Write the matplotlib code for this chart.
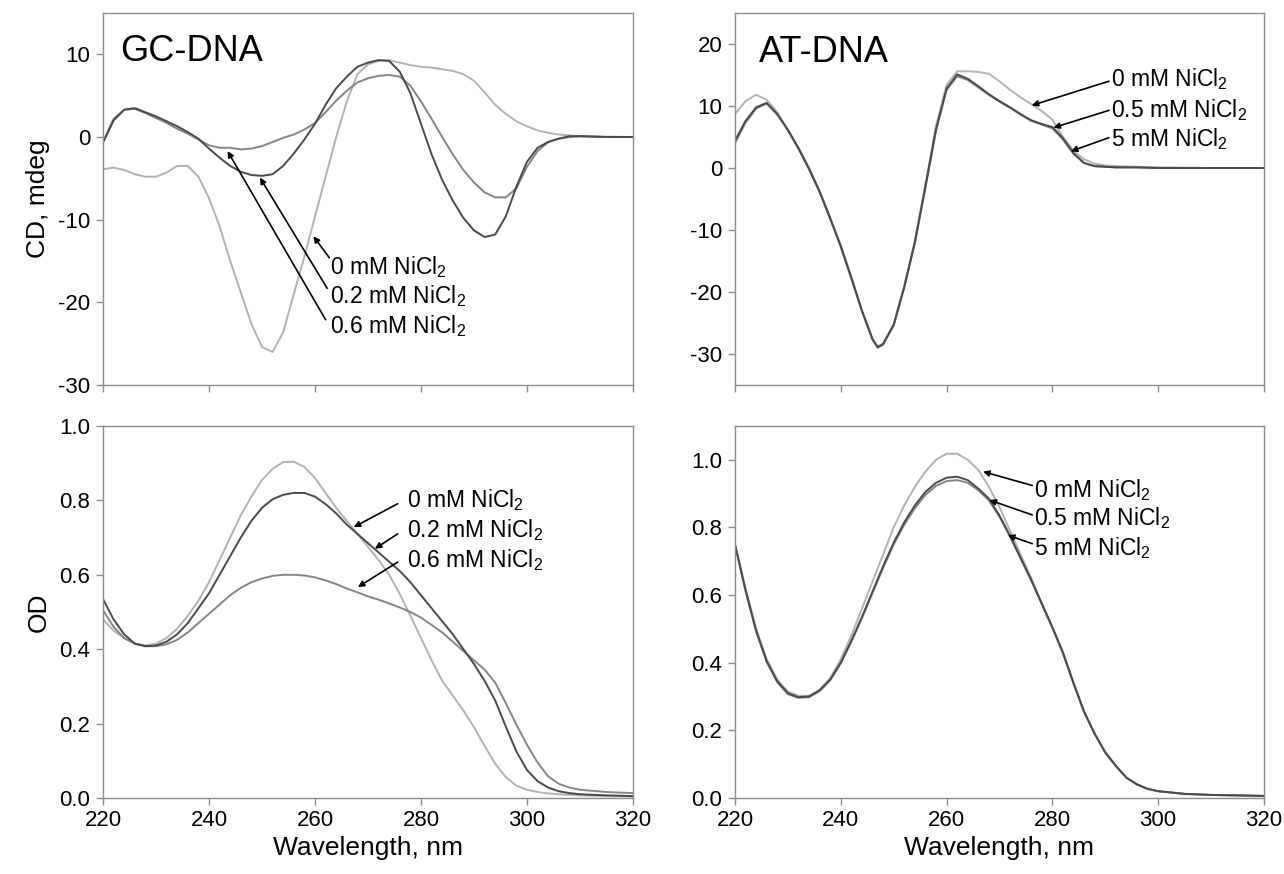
import numpy as np
import matplotlib
matplotlib.use('Agg')
import matplotlib.pyplot as plt

plt.rcParams['font.family'] = ['Liberation Sans', 'DejaVu Sans']
plt.rcParams['mathtext.fontset'] = 'custom'
plt.rcParams['mathtext.rm'] = 'Liberation Sans'
plt.rcParams['mathtext.it'] = 'Liberation Sans'
plt.rcParams['axes.unicode_minus'] = False

"""--- GC-DNA, CD ---"""
wl_gc_cd = [220, 222, 224, 226, 228, 230, 232, 234, 236, 238, 240, 242, 244, 246, 248,
            250, 252, 254, 256, 258, 260, 262, 264, 266, 268, 270, 272, 274, 276, 278,
            280, 282, 284, 286, 288, 290, 292, 294, 296, 298, 300, 302, 304, 306, 308,
            310, 315, 320]
gc_cd_0 = [-3.9, -3.7, -4.0, -4.5, -4.8, -4.8, -4.3, -3.5, -3.5, -4.8, -7.4, -10.8, -15.0, -18.8, -22.6,
           -25.4, -26.0, -23.6, -19.0, -14.5, -9.6, -4.8, 0.0, 4.3, 7.6, 8.8, 9.2, 9.3, 9.0, 8.7,
           8.5, 8.4, 8.2, 8.0, 7.6, 6.8, 5.4, 3.9, 2.8, 1.9, 1.3, 0.8, 0.5, 0.3, 0.2,
           0.1, 0.05, 0.0]
gc_cd_02 = [-0.7, 2.0, 3.3, 3.5, 3.0, 2.5, 1.9, 1.3, 0.6, -0.2, -1.4, -2.5, -3.5, -4.2, -4.6,
            -4.7, -4.5, -3.5, -2.0, -0.3, 1.6, 3.9, 5.9, 7.3, 8.5, 9.0, 9.3, 9.2, 7.9, 5.3,
            1.6, -2.1, -5.2, -7.7, -9.8, -11.3, -12.1, -11.8, -9.6, -6.0, -3.0, -1.3, -0.6, -0.2, 0.1,
            0.1, 0.0, 0.0]
gc_cd_06 = [-0.6, 2.2, 3.3, 3.4, 2.9, 2.3, 1.7, 1.0, 0.4, -0.3, -1.0, -1.3, -1.3, -1.5, -1.4,
            -1.1, -0.6, -0.1, 0.3, 0.9, 1.7, 3.0, 4.4, 5.6, 6.6, 7.1, 7.4, 7.5, 7.3, 6.2,
            4.3, 2.2, 0.0, -2.1, -4.0, -5.5, -6.7, -7.3, -7.3, -6.2, -3.6, -1.7, -0.6, -0.2, 0.0,
            0.1, 0.0, 0.0]

"""--- AT-DNA, CD ---"""
wl_at_cd = [220, 222, 224, 226, 228, 230, 232, 234, 236, 238, 240, 242, 244, 246, 247,
            248, 250, 252, 254, 256, 258, 260, 262, 264, 266, 268, 270, 272, 274, 276,
            278, 280, 282, 284, 286, 288, 290, 292, 296, 300, 310, 320]
at_cd_0 = [8.7, 10.8, 11.8, 11.0, 9.0, 6.0, 3.3, 0.0, -3.7, -8.0, -12.5, -17.6, -23.0, -27.6, -28.8,
           -28.3, -25.2, -19.0, -11.8, -2.6, 6.8, 13.4, 15.6, 15.6, 15.5, 15.2, 14.0, 12.6, 11.4, 10.3,
           9.2, 7.8, 5.0, 2.8, 1.4, 0.7, 0.4, 0.3, 0.2, 0.1, 0.0, 0.0]
at_cd_05 = [4.4, 7.6, 9.8, 10.5, 8.7, 6.2, 3.2, -0.1, -3.8, -8.1, -12.6, -17.7, -23.0, -27.6, -28.9,
            -28.4, -25.3, -19.2, -12.0, -3.0, 6.2, 12.8, 15.1, 14.4, 13.2, 11.9, 10.8, 9.8, 8.7, 7.7,
            7.1, 6.6, 4.8, 2.4, 0.8, 0.3, 0.2, 0.1, 0.1, 0.0, 0.0, 0.0]
at_cd_5 = [4.0, 7.3, 9.6, 10.4, 8.6, 6.1, 3.1, -0.2, -3.9, -8.2, -12.7, -17.8, -23.1, -27.7, -29.0,
           -28.5, -25.4, -19.3, -12.1, -3.2, 6.0, 12.6, 14.8, 14.2, 13.0, 11.8, 10.7, 9.7, 8.6, 7.6,
           7.0, 6.4, 4.6, 2.3, 0.8, 0.3, 0.2, 0.1, 0.1, 0.0, 0.0, 0.0]

"""--- GC-DNA, OD ---"""
wl_gc_od = [220, 222, 224, 226, 228, 230, 232, 234, 236, 238, 240, 242, 244, 246, 248,
            250, 252, 254, 256, 258, 260, 262, 264, 266, 268, 270, 272, 274, 276, 278,
            280, 282, 284, 286, 288, 290, 292, 294, 296, 298, 300, 302, 304, 306, 308,
            310, 315, 320]
gc_od_0 = [0.48, 0.45, 0.43, 0.415, 0.41, 0.415, 0.43, 0.455, 0.49, 0.53, 0.58, 0.64, 0.70, 0.76, 0.81,
           0.855, 0.885, 0.903, 0.904, 0.89, 0.86, 0.82, 0.78, 0.745, 0.71, 0.675, 0.64, 0.60, 0.548, 0.49,
           0.43, 0.37, 0.315, 0.275, 0.235, 0.19, 0.14, 0.092, 0.056, 0.033, 0.022, 0.016, 0.012, 0.01, 0.008,
           0.007, 0.005, 0.004]
gc_od_02 = [0.535, 0.48, 0.44, 0.415, 0.408, 0.41, 0.42, 0.44, 0.47, 0.51, 0.55, 0.60, 0.65, 0.70, 0.745,
            0.78, 0.803, 0.815, 0.82, 0.82, 0.81, 0.79, 0.765, 0.735, 0.71, 0.685, 0.66, 0.635, 0.61, 0.58,
            0.545, 0.51, 0.475, 0.44, 0.40, 0.36, 0.315, 0.262, 0.192, 0.125, 0.075, 0.045, 0.028, 0.018, 0.013,
            0.01, 0.007, 0.005]
gc_od_06 = [0.505, 0.46, 0.43, 0.415, 0.408, 0.408, 0.413, 0.425, 0.445, 0.47, 0.495, 0.52, 0.545, 0.565, 0.58,
            0.59, 0.597, 0.60, 0.60, 0.598, 0.593, 0.585, 0.575, 0.563, 0.553, 0.542, 0.533, 0.523, 0.512, 0.50,
            0.485, 0.465, 0.445, 0.42, 0.395, 0.37, 0.345, 0.31, 0.255, 0.197, 0.143, 0.095, 0.058, 0.038, 0.028,
            0.022, 0.016, 0.013]

"""--- AT-DNA, OD ---"""
wl_at_od = [220, 222, 224, 226, 228, 230, 232, 234, 236, 238, 240, 242, 244, 246, 248,
            250, 252, 254, 256, 258, 260, 262, 264, 266, 268, 270, 272, 274, 276, 278,
            280, 282, 284, 286, 288, 290, 292, 294, 296, 298, 300, 305, 310, 320]
at_od_0 = [0.75, 0.62, 0.50, 0.41, 0.35, 0.315, 0.302, 0.302, 0.32, 0.355, 0.41, 0.48, 0.56, 0.64, 0.72,
           0.80, 0.865, 0.92, 0.965, 1.0, 1.018, 1.018, 1.0, 0.97, 0.92, 0.86, 0.79, 0.72, 0.65, 0.575,
           0.505, 0.43, 0.34, 0.255, 0.19, 0.135, 0.095, 0.06, 0.04, 0.027, 0.02, 0.012, 0.009, 0.006]
at_od_05 = [0.75, 0.615, 0.495, 0.405, 0.345, 0.31, 0.298, 0.3, 0.318, 0.35, 0.40, 0.465, 0.535, 0.61, 0.685,
            0.755, 0.815, 0.865, 0.905, 0.932, 0.947, 0.95, 0.94, 0.915, 0.885, 0.835, 0.775, 0.71, 0.645, 0.575,
            0.505, 0.43, 0.34, 0.255, 0.19, 0.135, 0.095, 0.06, 0.04, 0.027, 0.02, 0.012, 0.009, 0.006]
at_od_5 = [0.75, 0.612, 0.492, 0.402, 0.342, 0.307, 0.296, 0.298, 0.316, 0.348, 0.398, 0.462, 0.532, 0.606, 0.68,
           0.75, 0.808, 0.857, 0.896, 0.923, 0.937, 0.94, 0.932, 0.91, 0.88, 0.832, 0.773, 0.708, 0.643, 0.573,
           0.503, 0.428, 0.338, 0.254, 0.189, 0.134, 0.094, 0.06, 0.04, 0.027, 0.02, 0.012, 0.009, 0.006]

LIGHT = '#b2b2b2'
MID = '#858585'
DARK = '#4a4a4a'
SPINE = '#8c8c8c'

TICK_FS = 16
NOTE_FS = 16.5
LABEL_FS = 19
TITLE_FS = 26

fig = plt.figure(figsize=(12.84, 8.74), dpi=100)
ax_gc_cd = fig.add_axes([0.0802, 0.5595, 0.4128, 0.4256])
ax_at_cd = fig.add_axes([0.5724, 0.5595, 0.4120, 0.4256])
ax_gc_od = fig.add_axes([0.0802, 0.0870, 0.4128, 0.4256])
ax_at_od = fig.add_axes([0.5724, 0.0870, 0.4120, 0.4256])


def style(ax):
    for s in ax.spines.values():
        s.set_color(SPINE)
        s.set_linewidth(1.0)
    ax.tick_params(direction='out', length=5, width=1, color=SPINE,
                   labelsize=TICK_FS, labelcolor='black', pad=4)
    ax.set_xlim(220, 320)
    ax.set_xticks([220, 240, 260, 280, 300, 320])


def arrow(ax, tail, tip):
    ax.annotate('', xy=tip, xytext=tail,
                arrowprops=dict(arrowstyle='-|>', color='black', lw=1.2,
                                mutation_scale=9, shrinkA=0, shrinkB=0))


lw = 1.4

"""--- GC CD ---"""
ax = ax_gc_cd
ax.plot(wl_gc_cd, gc_cd_0, color=LIGHT, lw=lw)
ax.plot(wl_gc_cd, gc_cd_06, color=MID, lw=lw)
ax.plot(wl_gc_cd, gc_cd_02, color=DARK, lw=lw)
style(ax)
ax.set_ylim(-30, 15)
ax.set_yticks([-30, -20, -10, 0, 10])
ax.set_xticklabels([])
ax.set_ylabel('CD, mdeg', fontsize=LABEL_FS, labelpad=6)
ax.text(223.3, 10.4, 'GC-DNA', fontsize=TITLE_FS, va='center', ha='left')
arrow(ax, (262.7, -14.6), (259.7, -12.0))
arrow(ax, (262.3, -18.3), (249.6, -4.9))
arrow(ax, (262.0, -22.1), (243.5, -1.7))
ax.text(262.9, -15.7, r'0 mM NiCl$_2$', fontsize=NOTE_FS, va='center')
ax.text(262.9, -19.3, r'0.2 mM NiCl$_2$', fontsize=NOTE_FS, va='center')
ax.text(262.9, -22.9, r'0.6 mM NiCl$_2$', fontsize=NOTE_FS, va='center')

"""--- AT CD ---"""
ax = ax_at_cd
ax.plot(wl_at_cd, at_cd_0, color=LIGHT, lw=lw)
ax.plot(wl_at_cd, at_cd_5, color=MID, lw=lw)
ax.plot(wl_at_cd, at_cd_05, color=DARK, lw=lw)
style(ax)
ax.set_ylim(-35, 25)
ax.set_yticks([-30, -20, -10, 0, 10, 20])
ax.set_xticklabels([])
ax.text(224.5, 18.6, 'AT-DNA', fontsize=TITLE_FS, va='center', ha='left')
arrow(ax, (290.7, 14.0), (276.1, 10.1))
arrow(ax, (290.7, 9.3), (280.2, 6.5))
arrow(ax, (290.7, 4.9), (283.5, 2.7))
ax.text(291.0, 14.3, r'0 mM NiCl$_2$', fontsize=NOTE_FS, va='center')
ax.text(291.0, 9.4, r'0.5 mM NiCl$_2$', fontsize=NOTE_FS, va='center')
ax.text(291.0, 4.7, r'5 mM NiCl$_2$', fontsize=NOTE_FS, va='center')

"""--- GC OD ---"""
ax = ax_gc_od
ax.plot(wl_gc_od, gc_od_0, color=LIGHT, lw=lw)
ax.plot(wl_gc_od, gc_od_06, color=MID, lw=lw)
ax.plot(wl_gc_od, gc_od_02, color=DARK, lw=lw)
style(ax)
ax.set_ylim(0, 1.0)
ax.set_yticks([0.0, 0.2, 0.4, 0.6, 0.8, 1.0])
ax.set_yticklabels(['0.0', '0.2', '0.4', '0.6', '0.8', '1.0'])
ax.set_ylabel('OD', fontsize=LABEL_FS, labelpad=6)
ax.set_xlabel('Wavelength, nm', fontsize=LABEL_FS, labelpad=3)
arrow(ax, (275.6, 0.791), (267.3, 0.728))
arrow(ax, (275.6, 0.710), (271.3, 0.670))
arrow(ax, (275.6, 0.634), (268.1, 0.567))
ax.text(277.4, 0.80, r'0 mM NiCl$_2$', fontsize=NOTE_FS, va='center')
ax.text(277.4, 0.72, r'0.2 mM NiCl$_2$', fontsize=NOTE_FS, va='center')
ax.text(277.4, 0.64, r'0.6 mM NiCl$_2$', fontsize=NOTE_FS, va='center')

"""--- AT OD ---"""
ax = ax_at_od
ax.plot(wl_at_od, at_od_0, color=LIGHT, lw=lw)
ax.plot(wl_at_od, at_od_5, color=MID, lw=lw)
ax.plot(wl_at_od, at_od_05, color=DARK, lw=lw)
style(ax)
ax.set_ylim(0, 1.1)
ax.set_yticks([0.0, 0.2, 0.4, 0.6, 0.8, 1.0])
ax.set_yticklabels(['0.0', '0.2', '0.4', '0.6', '0.8', '1.0'])
ax.set_xlabel('Wavelength, nm', fontsize=LABEL_FS, labelpad=3)
arrow(ax, (276.2, 0.924), (266.9, 0.965))
arrow(ax, (276.2, 0.837), (268.1, 0.881))
arrow(ax, (276.2, 0.752), (271.6, 0.777))
ax.text(276.6, 0.911, r'0 mM NiCl$_2$', fontsize=NOTE_FS, va='center')
ax.text(276.6, 0.827, r'0.5 mM NiCl$_2$', fontsize=NOTE_FS, va='center')
ax.text(276.6, 0.738, r'5 mM NiCl$_2$', fontsize=NOTE_FS, va='center')

fig.savefig('out.png', dpi=100)
plt.close(fig)
